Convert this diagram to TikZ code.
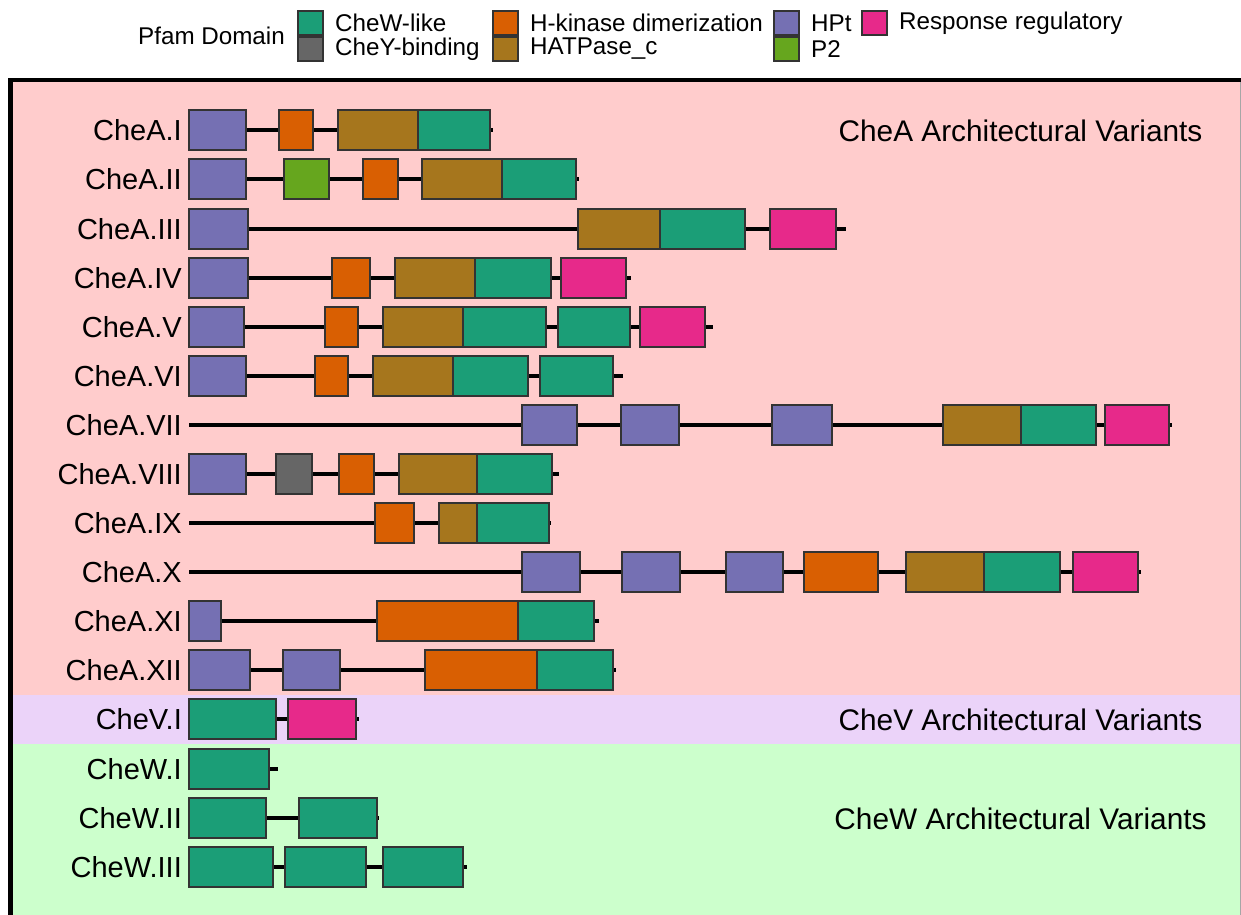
\documentclass[tikz,border=0pt]{standalone}
\usepackage{fontspec}
\setmainfont{Liberation Sans}
\definecolor{cw}{HTML}{1B9E77}
\definecolor{hk}{HTML}{D95F02}
\definecolor{hp}{HTML}{7570B3}
\definecolor{rr}{HTML}{E7298A}
\definecolor{ptwo}{HTML}{66A61E}
\definecolor{ha}{HTML}{A6761D}
\definecolor{cy}{HTML}{666666}
\definecolor{pinkbg}{HTML}{FFCCCC}
\definecolor{lavbg}{HTML}{EBD3F9}
\definecolor{greenbg}{HTML}{CCFFCC}
\definecolor{edge}{HTML}{333333}
\tikzset{
  lab/.style={anchor=east,inner sep=0pt,font=\fontsize{29}{34}\selectfont},
  title/.style={anchor=center,inner sep=0pt,font=\fontsize{29.8}{35}\selectfont},
  legtxt/.style={anchor=west,inner sep=0pt,font=\fontsize{24.2}{28}\selectfont},
  backbone/.style={line width=3.2pt,black},
  dom/.style={draw=edge,line width=1.5pt},
}
\newcommand{\prow}[5]{%
  \node[lab] (#1) at (182,#2) {#3};
  \coordinate (#1s) at (189,#2);
  \coordinate (#1e) at (#4,#2);
  \draw[backbone] (#1s) -- (#1e);
  \foreach \a/\b/\c in {#5} {\draw[dom,fill=\c] (\a,#2-20) rectangle (\b,#2+20);}
}
\begin{document}
\begin{tikzpicture}[x=1pt,y=-1pt]
\useasboundingbox (0,0) rectangle (1241,914);
\clip (0,0) rectangle (1241,914);
% backgrounds
\fill[pinkbg] (10,80) rectangle (1250,695);
\fill[lavbg] (10,695) rectangle (1250,744);
\fill[greenbg] (10,744) rectangle (1250,930);
\draw[line width=4.5pt,black] (10.5,930) -- (10.5,80) -- (1250,80);
\draw[line width=1pt,black!35] (1240.5,82) -- (1240.5,930);
% legend
\node[legtxt,anchor=east] (legtitle) at (285,36) {Pfam Domain};
\foreach \x/\y/\c/\t/\n in {298/23/cw/CheW-like/k1,298/49/cy/CheY-binding/k2,493/23/hk/H-kinase dimerization/k3,493/49/ha/HATPase\_c/k4,774/23/hp/HPt/k5,774/49/ptwo/P2/k6,862/23/rr/Response regulatory/k7}{
  \draw[dom,fill=\c] (\x,\y-12) rectangle (\x+25,\y+12);
  \node[legtxt] (\n) at (\x+37,\y) {\t};
}
% rows
\prow{r1}{130}{CheA.I}{493}{189/246/hp,279/313/hk,338/418/ha,418/490/cw}
\prow{r2}{179}{CheA.II}{579}{189/246/hp,284/329/ptwo,363/398/hk,422/502/ha,502/576/cw}
\prow{r3}{229}{CheA.III}{846}{189/248/hp,578/660/ha,660/745/cw,770/836/rr}
\prow{r4}{278}{CheA.IV}{631}{189/248/hp,332/370/hk,395/475/ha,475/551/cw,561/626/rr}
\prow{r5}{327}{CheA.V}{713}{189/244/hp,325/358/hk,383/463/ha,463/546/cw,558/630/cw,640/705/rr}
\prow{r6}{376}{CheA.VI}{623}{189/246/hp,315/348/hk,373/453/ha,453/528/cw,540/613/cw}
\prow{r7}{425}{CheA.VII}{1172}{522/577/hp,621/679/hp,772/832/hp,943/1021/ha,1021/1096/cw,1105/1169/rr}
\prow{r8}{474}{CheA.VIII}{559}{189/246/hp,276/312/cy,339/374/hk,399/477/ha,477/552/cw}
\prow{r9}{523}{CheA.IX}{551}{375/414/hk,439/477/ha,477/549/cw}
\prow{r10}{572}{CheA.X}{1141}{522/580/hp,622/680/hp,726/783/hp,804/878/hk,906/984/ha,984/1060/cw,1073/1138/rr}
\prow{r11}{621}{CheA.XI}{599}{189/221/hp,377/518/hk,518/594/cw}
\prow{r12}{670}{CheA.XII}{616}{189/250/hp,283/340/hp,425/537/hk,537/613/cw}
\prow{r13}{719}{CheV.I}{359}{189/276/cw,288/356/rr}
\prow{r14}{769}{CheW.I}{278}{189/269/cw}
\prow{r15}{818}{CheW.II}{379}{189/266/cw,299/377/cw}
\prow{r16}{867}{CheW.III}{467}{189/273/cw,285/366/cw,383/463/cw}
% section titles
\node[title] (tA) at (1020.5,131) {CheA Architectural Variants};
\node[title] (tV) at (1020.5,720) {CheV Architectural Variants};
\node[title] (tW) at (1020.5,819) {CheW Architectural Variants};
\end{tikzpicture}
\end{document}
